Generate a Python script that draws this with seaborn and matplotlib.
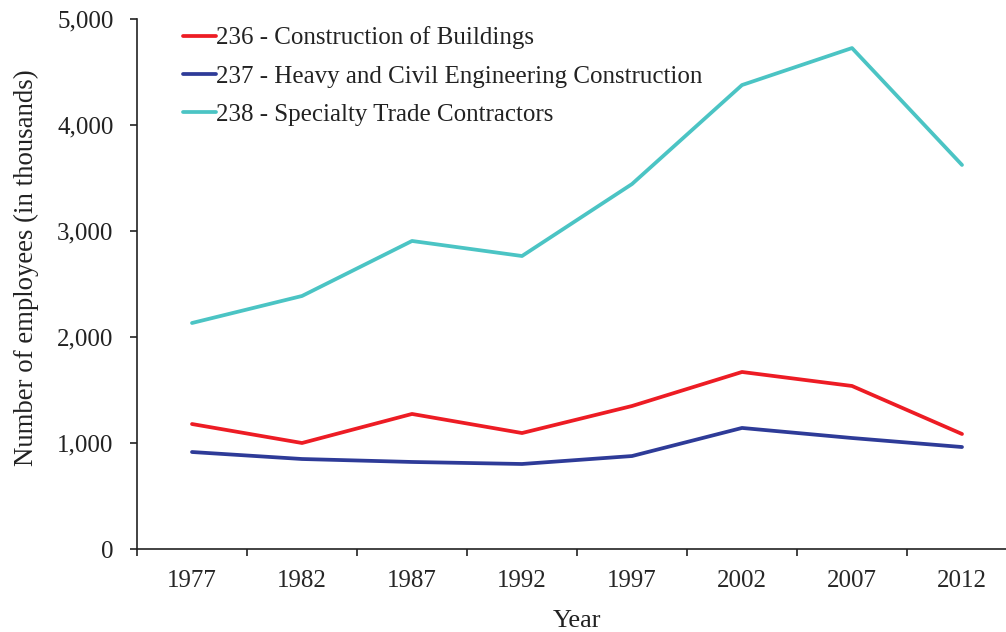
import numpy as np
import pandas as pd
import matplotlib
matplotlib.use("Agg")
import matplotlib.pyplot as plt
import seaborn as sns

years = ["1977", "1982", "1987", "1992", "1997", "2002", "2007", "2012"]
buildings = [1179, 1000, 1274, 1094, 1349, 1670, 1538, 1085]
heavy = [915, 849, 821, 802, 877, 1142, 1047, 962]
specialty = [2132, 2387, 2906, 2764, 3443, 4377, 4726, 3623]
series_names = ["236 - Construction of Buildings",
                "237 - Heavy and Civil Engineering Construction",
                "238 - Specialty Trade Contractors"]
colors = ["#ED1C24", "#2E3B98", "#4BC4C4"]

sns.set_style("white")
plt.rcParams['font.family'] = ['Liberation Serif', 'DejaVu Serif']

rows = []
for name, vals in zip(series_names, [buildings, heavy, specialty]):
    for i, v in enumerate(vals):
        rows.append({"pos": i, "value": v, "series": name})
df = pd.DataFrame(rows)

fig = plt.figure(figsize=(10.06, 6.32), dpi=100)
ax = fig.add_axes([137/1006, (632-549)/632, 880/1006, 530/632])

sns.lineplot(data=df, x="pos", y="value", hue="series", palette=colors,
             linewidth=2.7, ax=ax, legend=True)

ax.set_xlim(-0.5, 7.5)
ax.set_ylim(0, 5000)
ax.set_yticks([0, 1000, 2000, 3000, 4000, 5000])
ax.set_yticklabels(["0", "1,000", "2,000", "3,000", "4,000", "5,000"], fontsize=18)
ax.set_xticks(np.arange(-0.5, 7.0, 1.0))
ax.set_xticklabels([])
ax.set_xticks(np.arange(0, 8), minor=True)
ax.set_xticklabels(years, minor=True, fontsize=18)
ax.tick_params(axis='x', which='major', bottom=True, direction='out', length=5, width=1.2, color='#222222')
ax.tick_params(axis='x', which='minor', bottom=True, length=0, pad=15)
ax.tick_params(axis='y', left=True, direction='out', length=5, width=1.2, color='#222222', pad=12)
ax.tick_params(labelcolor='#222222')
for s in ["top", "right"]:
    ax.spines[s].set_visible(False)
for s in ["left", "bottom"]:
    ax.spines[s].set_color('#222222')
    ax.spines[s].set_linewidth(1.2)

ax.set_xlabel("Year", fontsize=19, color='#222222', labelpad=13)
ax.set_ylabel("Number of employees (in thousands)", fontsize=19.3, color='#222222')
ax.yaxis.set_label_coords(-0.111, 0.53)

leg = ax.legend(loc='upper left', bbox_to_anchor=(0.041, 1.005), frameon=False,
                fontsize=18, handlelength=1.3, handletextpad=0.0,
                labelspacing=0.63, borderaxespad=0)
for t in leg.get_texts():
    t.set_color('#222222')

fig.savefig("out.png", dpi=100)
